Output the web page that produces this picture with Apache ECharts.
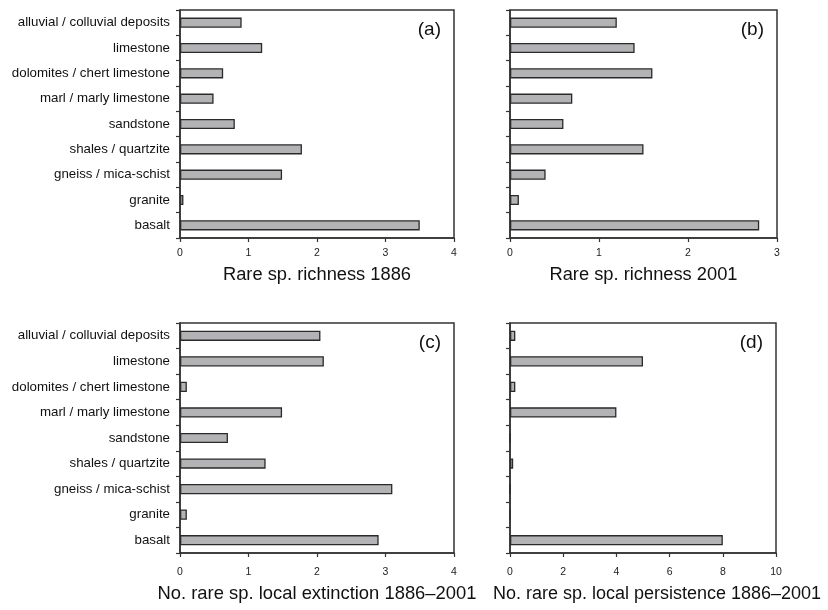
<!DOCTYPE html>
<html>
<head>
<meta charset="utf-8">
<script src="https://cdn.jsdelivr.net/npm/echarts@6/dist/echarts.min.js"></script>
<style>html,body{margin:0;padding:0;background:#fff;}#c{width:828px;height:610px;}</style>
</head>
<body>
<div id="c"></div>
<script>
const categories = ["alluvial / colluvial deposits", "limestone", "dolomites / chert limestone", "marl / marly limestone", "sandstone", "shales / quartzite", "gneiss / mica-schist", "granite", "basalt"];
const richness1886 = [0.9, 1.2, 0.63, 0.49, 0.8, 1.78, 1.49, 0.05, 3.5];
const richness2001 = [1.2, 1.4, 1.6, 0.7, 0.6, 1.5, 0.4, 0.1, 2.8];
const extinction = [2.05, 2.1, 0.1, 1.49, 0.7, 1.25, 3.1, 0.1, 2.9];
const persistence = [0.2, 5, 0.2, 4, 0, 0.12, 0, 0, 8];
const axisTitles = ["Rare sp. richness 1886", "Rare sp. richness 2001", "No. rare sp. local extinction 1886\u20132001", "No. rare sp. local persistence 1886\u20132001"];
const panelLabels = ["(a)", "(b)", "(c)", "(d)"];
const xMax = [4, 3, 4, 10];
const xInterval = [1, 1, 1, 2];

const FONT = "Liberation Sans, Arial, Helvetica, sans-serif";
const grids = [
  {left: 180, top: 10, width: 274, height: 228},
  {left: 510, top: 10, width: 267, height: 228},
  {left: 180, top: 323, width: 274, height: 230},
  {left: 510, top: 323, width: 266, height: 230}
];
const titleSizes = [18.3, 18.3, 18.4, 18];
const titlePads = [[0, 0, 0, 0], [0, 0, 0, 0], [0, 0, 0, 0], [0, 0, 0, 28]];
const labelMargins = [10, 10, 14, 14];
const nameGaps = [28, 28, 32, 32];
const seriesData = [richness1886, richness2001, extinction, persistence];

const option = {
  animation: false,
  backgroundColor: '#fff',
  grid: grids.map(g => Object.assign({show: true, borderColor: '#333', borderWidth: 1.5, backgroundColor: 'transparent', containLabel: false}, g)),
  title: panelLabels.map((t, i) => ({
    text: t,
    right: 828 - (grids[i].left + grids[i].width) + 8,
    top: grids[i].top + 5,
    textStyle: {fontFamily: FONT, fontSize: 19, fontWeight: 'normal', color: '#111'}
  })),
  xAxis: grids.map((g, i) => ({
    type: 'value', gridIndex: i, min: 0, max: xMax[i], interval: xInterval[i],
    name: axisTitles[i], nameLocation: 'middle', nameGap: nameGaps[i],
    nameTextStyle: {fontFamily: FONT, fontSize: titleSizes[i], color: '#111', padding: titlePads[i]},
    axisLine: {show: true, lineStyle: {color: '#333', width: 1.5}},
    axisTick: {show: true, length: 4, lineStyle: {color: '#333', width: 1.2}},
    axisLabel: {fontFamily: FONT, fontSize: 10.5, color: '#222', margin: labelMargins[i]},
    splitLine: {show: false}
  })),
  yAxis: grids.map((g, i) => ({
    type: 'category', gridIndex: i, data: categories, inverse: true,
    axisLine: {show: true, lineStyle: {color: '#333', width: 1.5}},
    axisTick: {show: true, length: 4, lineStyle: {color: '#333', width: 1.2}},
    axisLabel: {show: i % 2 === 0, fontFamily: FONT, fontSize: 13.3, color: '#111', margin: 10},
    splitLine: {show: false}
  })),
  series: seriesData.map((d, i) => ({
    type: 'bar', xAxisIndex: i, yAxisIndex: i, data: d,
    barCategoryGap: '60%',
    itemStyle: {color: '#b3b3b6', borderColor: '#2a2a2a', borderWidth: 1.3},
    silent: true
  }))
};
echarts.init(document.getElementById('c')).setOption(option);
</script>
</body>
</html>
